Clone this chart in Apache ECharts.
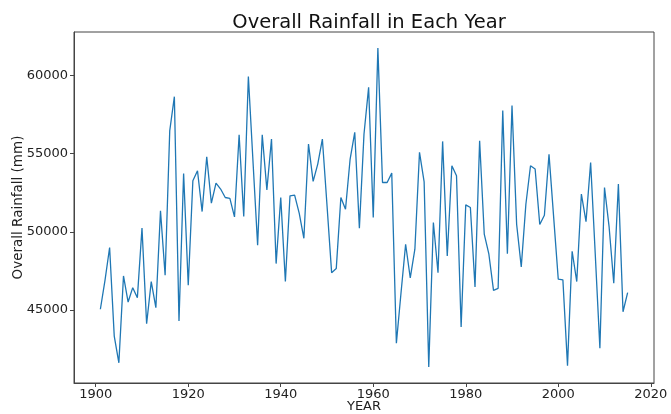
<!DOCTYPE html>
<html>
<head>
<meta charset="utf-8">
<title>Overall Rainfall in Each Year</title>
<script src="https://cdn.jsdelivr.net/npm/echarts@6/dist/echarts.min.js"></script>
<style>
  html, body { margin: 0; padding: 0; background: #fff; }
  #chart { width: 671px; height: 414px; }
</style>
</head>
<body>
<div id="chart"></div>
<script>
// yearly overall rainfall, 1901 .. 2015
const firstYear = 1901;
const rainfall = [
  45050, 46900, 49000, 43330, 41620, 47180, 45510, 46430, 45790, 50240,
  44120, 46820, 45150, 51350, 47220, 56470, 58650, 44300, 53740, 46580,
  53270, 53910, 51300, 54810, 51840, 53120, 52740, 52200, 52140, 50960,
  56220, 50980, 59940, 54500, 49150, 56220, 52690, 55940, 47970, 52200,
  46820, 52310, 52350, 51180, 49590, 55620, 53230, 54340, 55940, 51700,
  47390, 47650, 52200, 51450, 54660, 56370, 50240, 56260, 59250, 50920,
  61770, 53160, 53160, 53760, 42870, 46090, 49210, 47050, 48890, 55090,
  53200, 41350, 50600, 47390, 55790, 48460, 54230, 53590, 43910, 51730,
  51560, 46480, 55830, 49850, 48570, 46260, 46390, 57760, 48600, 58080,
  50490, 47760, 51770, 54230, 54020, 50470, 51060, 54960, 50960, 46970,
  46930, 41440, 48760, 46820, 52420, 50650, 54440, 48570, 42560, 52840,
  50300, 46710, 53060, 44890, 46110
];
const xTicks = [1900, 1920, 1940, 1960, 1980, 2000, 2020];
const yTicks = [45000, 50000, 55000, 60000];

const chart = echarts.init(document.getElementById("chart"));

const points = rainfall.map((v, i) => [firstYear + i, v]);

// matplotlib style 5% margins around the data
const xPad = (rainfall.length - 1) * 0.05;
const yMin = Math.min(...rainfall);
const yMax = Math.max(...rainfall);
const yPad = (yMax - yMin) * 0.05;

const font = "DejaVu Sans";
const frame = "#444";

const option = {
  backgroundColor: "#fff",
  animation: false,
  title: {
    text: "Overall Rainfall in Each Year",
    left: 364,
    top: 8,
    textAlign: "center",
    textStyle: { fontFamily: font, fontSize: 19.5, fontWeight: "normal", color: "#111" },
  },
  grid: {
    left: 74,
    right: 17,
    top: 32,
    bottom: 31,
    outerBoundsMode: "none",
    containLabel: false,
    show: true,
    borderColor: frame,
    borderWidth: 1,
  },
  xAxis: {
    type: "value",
    min: firstYear - xPad,
    max: firstYear + rainfall.length - 1 + xPad,
    name: "YEAR",
    nameLocation: "middle",
    nameGap: 17,
    nameMoveOverlap: false,
    nameTextStyle: { fontFamily: font, fontSize: 13, color: "#222" },
    axisLine: { show: true, onZero: false, lineStyle: { color: frame } },
    axisTick: { show: true, length: 4, customValues: xTicks, lineStyle: { color: frame } },
    axisLabel: {
      customValues: xTicks,
      formatter: (v) => String(v),
      margin: 5,
      fontFamily: font,
      fontSize: 13,
      color: "#222",
    },
    splitLine: { show: false },
  },
  yAxis: {
    type: "value",
    min: yMin - yPad,
    max: yMax + yPad,
    name: "Overall Rainfall (mm)",
    nameLocation: "middle",
    nameGap: 49,
    nameMoveOverlap: false,
    nameTextStyle: { fontFamily: font, fontSize: 13.5, color: "#222" },
    axisLine: { show: true, onZero: false, lineStyle: { color: frame } },
    axisTick: { show: true, length: 4, customValues: yTicks, lineStyle: { color: frame } },
    axisLabel: {
      customValues: yTicks,
      formatter: (v) => String(v),
      margin: 6,
      fontFamily: font,
      fontSize: 13,
      color: "#222",
    },
    splitLine: { show: false },
  },
  series: [
    {
      type: "line",
      data: points,
      showSymbol: false,
      lineStyle: { color: "#1f77b4", width: 1.3 },
    },
  ],
};

chart.setOption(option);
</script>
</body>
</html>
